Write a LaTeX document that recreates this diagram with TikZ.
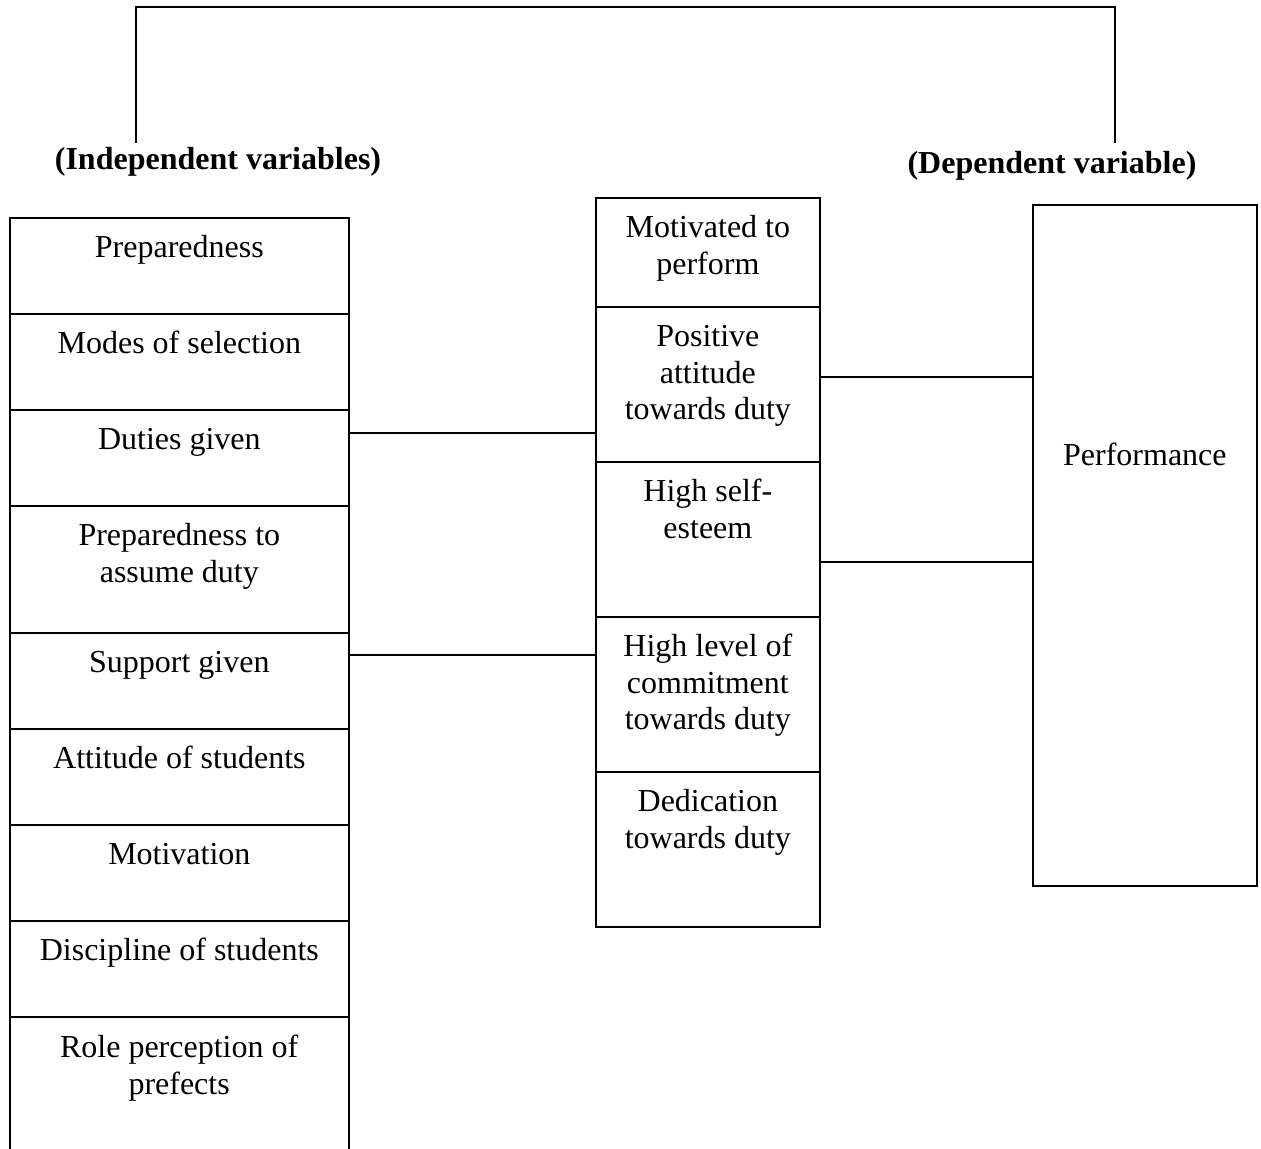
\documentclass[tikz,border=0pt]{standalone}
\usepackage{fontspec}
\setmainfont{Liberation Serif}
\newcommand\fl{\rule{0pt}{20pt}}
\newcommand\cellfont{\fontsize{24pt}{27.4pt}\selectfont}
\begin{document}
\begin{tikzpicture}[x=0.75pt,y=-0.75pt,
  line width=1.3pt,
  cellL/.style={draw, rectangle, inner sep=0pt, anchor=north west, minimum width=254.25pt},
  cellM/.style={draw, rectangle, inner sep=0pt, anchor=north west, minimum width=168pt},
  lbl/.style={anchor=north, inner sep=0pt, align=center, font=\cellfont},
  head/.style={anchor=base, inner sep=0pt, font=\cellfont\bfseries},
  conn/.style={draw, line width=1.3pt}]
\useasboundingbox (0,0) rectangle (1261,1149);
% left column
\node[cellL, minimum height=72pt] (c1) at (9,217) {};
\node[cellL, minimum height=72pt] (c2) at (9,313) {};
\node[cellL, minimum height=72pt] (c3) at (9,409) {};
\node[cellL, minimum height=95.25pt] (c4) at (9,505) {};
\node[cellL, minimum height=72pt] (c5) at (9,632) {};
\node[cellL, minimum height=72pt] (c6) at (9,728) {};
\node[cellL, minimum height=72pt] (c7) at (9,824) {};
\node[cellL, minimum height=72pt] (c8) at (9,920) {};
\node[rectangle, inner sep=0pt, outer sep=0pt, anchor=north west, minimum width=254.25pt, minimum height=101pt] (c9) at (9.65,1016.85) {};
\draw (c9.south west) -- (c9.north west) -- (c9.north east) -- (c9.south east);
\node[lbl] (t1) at ([yshift=-10pt]c1.north) {\fl Preparedness};
\node[lbl] (t2) at ([yshift=-10pt]c2.north) {\fl Modes of selection};
\node[lbl] (t3) at ([yshift=-10pt]c3.north) {\fl Duties given};
\node[lbl] (t4) at ([yshift=-10pt]c4.north) {\fl Preparedness to\\assume duty};
\node[lbl] (t5) at ([yshift=-10pt]c5.north) {\fl Support given};
\node[lbl] (t6) at ([yshift=-10pt]c6.north) {\fl Attitude of students};
\node[lbl] (t7) at ([yshift=-10pt]c7.north) {\fl Motivation};
\node[lbl] (t8) at ([yshift=-10pt]c8.north) {\fl Discipline of students};
\node[lbl] (t9) at ([yshift=-10pt]c9.north) {\fl Role perception of\\prefects};
% middle column
\node[cellM, minimum height=81.75pt] (m1) at (595,197) {};
\node[cellM, minimum height=116.25pt] (m2) at (595,306) {};
\node[cellM, minimum height=116.25pt] (m3) at (595,461) {};
\node[cellM, minimum height=116.25pt] (m4) at (595,616) {};
\node[cellM, minimum height=116.25pt] (m5) at (595,771) {};
\node[lbl] (u1) at ([yshift=-10pt]m1.north) {\fl Motivated to\\perform};
\node[lbl] (u2) at ([yshift=-10pt]m2.north) {\fl Positive\\attitude\\towards duty};
\node[lbl] (u3) at ([yshift=-10pt]m3.north) {\fl High self-\\esteem};
\node[lbl] (u4) at ([yshift=-10pt]m4.north) {\fl High level of\\commitment\\towards duty};
\node[lbl] (u5) at ([yshift=-10pt]m5.north) {\fl Dedication\\towards duty};
% right box
\node[cellM, minimum height=510.75pt] (perf) at (1032,204) {};
\node[head, font=\cellfont] (pt) at ([yshift=-195.75pt]perf.north) {Performance};
% connectors
\coordinate (j1) at ([yshift=-18pt]c3.north east);
\coordinate (j2) at ([yshift=-17.25pt]c5.north east);
\coordinate (j3) at ([yshift=-53.25pt]m2.north east);
\coordinate (j4) at ([yshift=-75.75pt]m3.north east);
\draw[conn] (j1) -- (j1 -| m2.west);
\draw[conn] (j2) -- (j2 -| m4.west);
\draw[conn] (j3) -- (j3 -| perf.west);
\draw[conn] (j4) -- (j4 -| perf.west);
% headings
\node[head] (ind) at (218,170) {(Independent variables)};
\node[head] (dep) at (1052,173) {(Dependent variable)};
% bracket
\coordinate (bl) at (136,143);
\coordinate (br) at (1115,143);
\coordinate (tp) at (0,7);
\draw (bl) -- (bl |- tp) -- (br |- tp) -- (br);
\end{tikzpicture}
\end{document}
